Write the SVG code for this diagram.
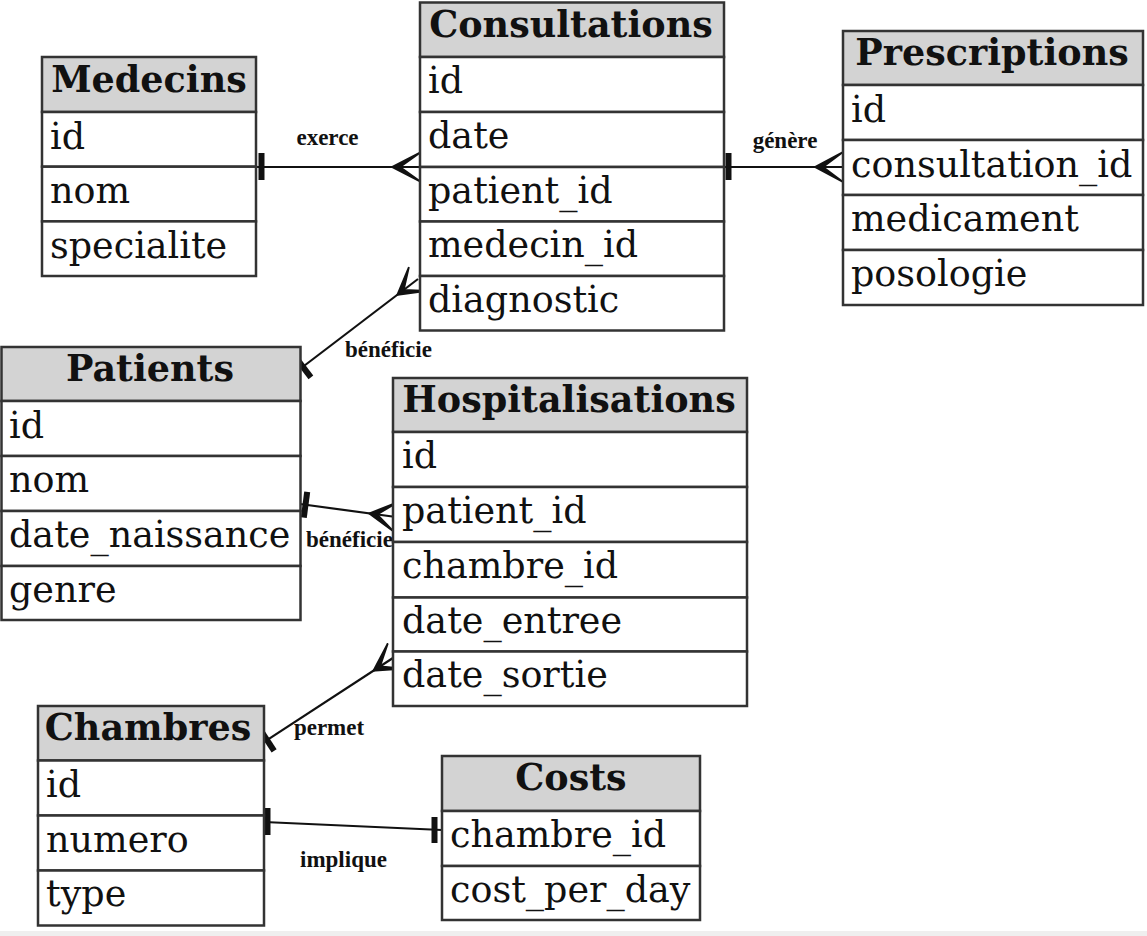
<svg xmlns="http://www.w3.org/2000/svg" width="1147" height="936" viewBox="0 0 1147 936">
<style>
.hdr{fill:#d3d3d3;stroke:#333;stroke-width:2.5}
.row{fill:#fff;stroke:#333;stroke-width:2.5}
.ht{font-family:"DejaVu Serif",serif;font-weight:bold;font-size:36.5px;fill:#111;text-anchor:middle}
.rt{font-family:"DejaVu Serif",serif;font-size:36.5px;fill:#111}
.ln{stroke:#111;stroke-width:2.2;fill:none}
.tee{stroke:#111;stroke-width:6;fill:none}
.crow{fill:#111;stroke:#111;stroke-width:1.8;stroke-linejoin:miter}
.lbl{font-family:"Liberation Serif",serif;font-weight:bold;font-size:23px;fill:#111;text-anchor:middle}
</style>
<rect x="0" y="0" width="1147" height="936" fill="#fff"/>
<rect x="0" y="931" width="1147" height="5" fill="#efefef"/>

<g id="connectors">
  <!-- exerce -->
  <line class="ln" x1="256" y1="167" x2="420" y2="167"/>
  <line class="tee" x1="261.5" y1="153" x2="261.5" y2="180"/>
  <path class="crow" d="M421,152 L392,167 L421,182 L400,167 Z"/>
  <!-- génère -->
  <line class="ln" x1="724" y1="167" x2="843" y2="167"/>
  <line class="tee" x1="728.5" y1="153" x2="728.5" y2="180"/>
  <path class="crow" d="M843,152 L815,167 L843,182 L823,167 Z"/>
  <!-- bénéficie (Patients - Consultations) -->
  <line class="ln" x1="300" y1="369" x2="418" y2="279"/>
  <line class="tee" x1="295.1" y1="356.7" x2="310.9" y2="377.3"/>
  <path class="crow" d="M427.1,290.9 L397.3,294.8 L408.9,267.1 L403.7,290 Z"/>
  <!-- bénéficie (Patients - Hospitalisations) -->
  <line class="ln" x1="300" y1="504" x2="396" y2="517"/>
  <line class="tee" x1="307.2" y1="491.8" x2="303.8" y2="517.6"/>
  <path class="crow" d="M394,531.9 L369.2,513.4 L398,502.1 L377.1,514.5 Z"/>
  <!-- permet -->
  <line class="ln" x1="262" y1="743.3" x2="396" y2="656"/>
  <line class="tee" x1="259.9" y1="729.1" x2="274.1" y2="750.9"/>
  <path class="crow" d="M404.2,668.6 L373.4,670.7 L387.8,643.4 L380.1,666.3 Z"/>
  <!-- implique -->
  <line class="ln" x1="264" y1="822" x2="442" y2="830"/>
  <line class="tee" x1="267.5" y1="808" x2="267.5" y2="835"/>
  <line class="tee" x1="434.5" y1="817" x2="434.5" y2="843"/>
  <!-- labels -->
  <text class="lbl" x="327.5" y="145">exerce</text>
  <text class="lbl" x="785" y="148">génère</text>
  <text class="lbl" x="388.5" y="357">bénéficie</text>
  <text class="lbl" x="349.5" y="547">bénéficie</text>
  <text class="lbl" x="329" y="735">permet</text>
  <text class="lbl" x="343.5" y="867">implique</text>
</g>

<g id="medecins">
  <rect class="hdr" x="42" y="57" width="214" height="55"/>
  <rect class="row" x="42" y="112" width="214" height="54.7"/>
  <rect class="row" x="42" y="166.7" width="214" height="54.7"/>
  <rect class="row" x="42" y="221.4" width="214" height="54.6"/>
  <text class="ht" x="149" y="92">Medecins</text>
  <text class="rt" x="50" y="149">id</text>
  <text class="rt" x="50" y="203">nom</text>
  <text class="rt" x="50" y="258">specialite</text>
</g>

<g id="consultations">
  <rect class="hdr" x="420" y="2.5" width="304" height="54.5"/>
  <rect class="row" x="420" y="57" width="304" height="55"/>
  <rect class="row" x="420" y="112" width="304" height="55"/>
  <rect class="row" x="420" y="167" width="304" height="54.5"/>
  <rect class="row" x="420" y="221.5" width="304" height="54.5"/>
  <rect class="row" x="420" y="276" width="304" height="54.5"/>
  <text class="ht" x="571" y="37">Consultations</text>
  <text class="rt" x="428" y="93">id</text>
  <text class="rt" x="428" y="148">date</text>
  <text class="rt" x="428" y="203">patient_id</text>
  <text class="rt" x="428" y="257">medecin_id</text>
  <text class="rt" x="428" y="312">diagnostic</text>
</g>

<g id="prescriptions">
  <rect class="hdr" x="843" y="31" width="300" height="54"/>
  <rect class="row" x="843" y="85" width="300" height="55"/>
  <rect class="row" x="843" y="140" width="300" height="55"/>
  <rect class="row" x="843" y="195" width="300" height="55"/>
  <rect class="row" x="843" y="250" width="300" height="55"/>
  <text class="ht" x="992" y="65">Prescriptions</text>
  <text class="rt" x="851" y="122">id</text>
  <text class="rt" x="851" y="177">consultation_id</text>
  <text class="rt" x="851" y="231">medicament</text>
  <text class="rt" x="851" y="286">posologie</text>
</g>

<g id="patients">
  <rect class="hdr" x="1.5" y="347" width="299" height="54"/>
  <rect class="row" x="1.5" y="401" width="299" height="55"/>
  <rect class="row" x="1.5" y="456" width="299" height="55"/>
  <rect class="row" x="1.5" y="511" width="299" height="55"/>
  <rect class="row" x="1.5" y="566" width="299" height="54"/>
  <text class="ht" x="150" y="381">Patients</text>
  <text class="rt" x="9" y="438">id</text>
  <text class="rt" x="9" y="492">nom</text>
  <text class="rt" x="9" y="547">date_naissance</text>
  <text class="rt" x="9" y="602">genre</text>
</g>

<g id="hospitalisations">
  <rect class="hdr" x="393" y="378" width="354" height="54"/>
  <rect class="row" x="393" y="432" width="354" height="55"/>
  <rect class="row" x="393" y="487" width="354" height="55"/>
  <rect class="row" x="393" y="542" width="354" height="55.5"/>
  <rect class="row" x="393" y="597.5" width="354" height="54"/>
  <rect class="row" x="393" y="651.5" width="354" height="54.5"/>
  <text class="ht" x="569" y="412">Hospitalisations</text>
  <text class="rt" x="402" y="468">id</text>
  <text class="rt" x="402" y="523">patient_id</text>
  <text class="rt" x="402" y="578">chambre_id</text>
  <text class="rt" x="402" y="633">date_entree</text>
  <text class="rt" x="402" y="687">date_sortie</text>
</g>

<g id="chambres">
  <rect class="hdr" x="38" y="706" width="226" height="54.5"/>
  <rect class="row" x="38" y="760.5" width="226" height="55"/>
  <rect class="row" x="38" y="815.5" width="226" height="55"/>
  <rect class="row" x="38" y="870.5" width="226" height="55"/>
  <text class="ht" x="148" y="740">Chambres</text>
  <text class="rt" x="46" y="797">id</text>
  <text class="rt" x="46" y="852">numero</text>
  <text class="rt" x="46" y="906">type</text>
</g>

<g id="costs">
  <rect class="hdr" x="442" y="756" width="258" height="55"/>
  <rect class="row" x="442" y="811" width="258" height="55"/>
  <rect class="row" x="442" y="866" width="258" height="54"/>
  <text class="ht" x="571" y="790">Costs</text>
  <text class="rt" x="450" y="847">chambre_id</text>
  <text class="rt" x="450" y="902">cost_per_day</text>
</g>
</svg>
